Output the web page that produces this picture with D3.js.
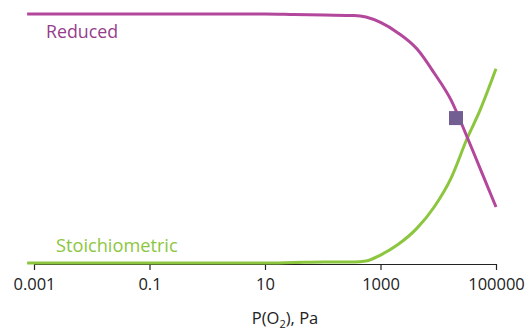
<!DOCTYPE html>
<html>
<head>
<meta charset="utf-8">
<script src="https://cdn.jsdelivr.net/npm/d3@7"></script>
<style>
  html, body { margin: 0; padding: 0; background: #fff; }
  svg { display: block; font-family: 'Open Sans', sans-serif; }
</style>
</head>
<body>
<svg id="chart" width="529" height="332"></svg>
<script>
// P(O2) in Pa, fraction of each state
const pressure = [0.00076, 10, 32, 105, 350, 560, 1000, 1950, 4300, 8500, 16600, 31600, 53000, 100000]
const reduced = [1.0, 1.0, 0.998, 0.996, 0.994, 0.988, 0.966, 0.926, 0.859, 0.763, 0.655, 0.506, 0.38, 0.225]
const stoich = [0.0, 0.0, 0.002, 0.004, 0.004, 0.008, 0.032, 0.072, 0.14, 0.225, 0.34, 0.5, 0.614, 0.78]
const tickValues = [0.001, 0.1, 10, 1000, 100000]
const tickLabels = ['0.001', '0.1', '10', '1000', '100000']
const marker = { p: 20300, v: 0.582 }

const COLORS = { reduced: '#b3479c', reducedText: '#963d8c', stoich: '#8cc63f', marker: '#735e92' }

const svg = d3.select('#chart')

const x = d3.scaleLog().domain([0.001, 100000]).range([34, 496])
const y = d3.scaleLinear().domain([0, 1]).range([263, 14])

const axisG = svg.append('g')
  .attr('transform', 'translate(0,264)')
  .call(d3.axisBottom(x).tickValues(tickValues).tickFormat((d, i) => tickLabels[i]).tickSize(6).tickPadding(8).tickSizeOuter(0))
axisG.select('.domain').attr('stroke', '#222').attr('stroke-width', 1.2)
axisG.selectAll('.tick line').attr('stroke', '#222').attr('stroke-width', 1.2)
axisG.selectAll('.tick text')
  .attr('font-family', "'Open Sans', sans-serif")
  .attr('font-size', '16.5px')
  .attr('fill', '#222')

const line = d3.line()
  .x(d => x(d[0]))
  .y(d => y(d[1]))
  .curve(d3.curveMonotoneX)

svg.append('path')
  .datum(pressure.map((p, i) => [p, stoich[i]]))
  .attr('d', line)
  .attr('fill', 'none')
  .attr('stroke', COLORS.stoich)
  .attr('stroke-width', 3)

svg.append('path')
  .datum(pressure.map((p, i) => [p, reduced[i]]))
  .attr('d', line)
  .attr('fill', 'none')
  .attr('stroke', COLORS.reduced)
  .attr('stroke-width', 3)

svg.append('rect')
  .attr('x', x(marker.p) - 7)
  .attr('y', y(marker.v) - 7)
  .attr('width', 14)
  .attr('height', 14)
  .attr('fill', COLORS.marker)

svg.append('text')
  .attr('x', 46).attr('y', 38)
  .attr('font-size', '17.8px')
  .attr('fill', COLORS.reducedText)
  .text('Reduced')

svg.append('text')
  .attr('x', 56).attr('y', 252)
  .attr('font-size', '18.2px')
  .attr('fill', COLORS.stoich)
  .text('Stoichiometric')

const title = svg.append('text')
  .attr('x', 285).attr('y', 324)
  .attr('text-anchor', 'middle')
  .attr('font-size', '16.5px')
  .attr('fill', '#222')
title.append('tspan').text('P(O')
title.append('tspan').attr('font-size', '11px').attr('dy', 4).text('2')
title.append('tspan').attr('dy', -4).text('), Pa')
</script>
</body>
</html>
